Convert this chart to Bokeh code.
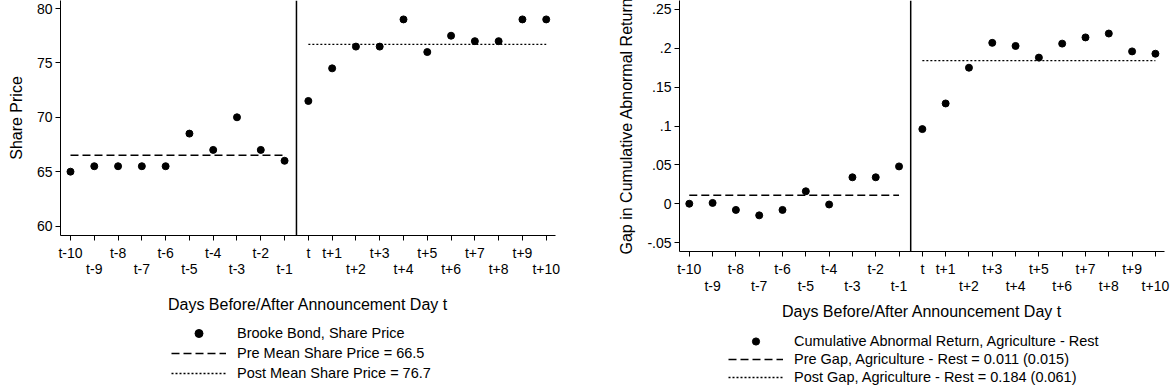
from bokeh.plotting import figure
from bokeh.models import (Span, Legend, LegendItem, FixedTicker, Range1d)
from bokeh.layouts import row, column
from bokeh.embed import file_html
from bokeh.resources import INLINE

# ---------------- data ----------------
days = list(range(-10, 11))
tick_labels = ["t-10", "t-9", "t-8", "t-7", "t-6", "t-5", "t-4", "t-3", "t-2", "t-1",
               "t", "t+1", "t+2", "t+3", "t+4", "t+5", "t+6", "t+7", "t+8", "t+9", "t+10"]
tick_row2 = [0, 1, 0, 1, 0, 1, 0, 1, 0, 1,
             0, 0, 1, 0, 1, 0, 1, 0, 1, 0, 1]

share_price = [65.0, 65.5, 65.5, 65.5, 65.5, 68.5, 67.0, 70.0, 67.0, 66.0,
               71.5, 74.5, 76.5, 76.5, 79.0, 76.0, 77.5, 77.0, 77.0, 79.0, 79.0]
pre_mean_price = 66.5
post_mean_price = 76.7

car_gap = [0.000, 0.001, -0.008, -0.015, -0.008, 0.016, -0.001, 0.034, 0.034, 0.048,
           0.096, 0.129, 0.175, 0.207, 0.203, 0.188, 0.206, 0.214, 0.219, 0.196, 0.193]
pre_gap = 0.011
post_gap = 0.184

price_ticks = [60, 65, 70, 75, 80]
gap_ticks = [-0.05, 0, 0.05, 0.1, 0.15, 0.2, 0.25]
gap_tick_labels = ["-.05", "0", ".05", ".1", ".15", ".2", ".25"]

legend_left = ["Brooke Bond, Share Price",
               "Pre Mean Share Price = 66.5",
               "Post Mean Share Price = 76.7"]
legend_right = ["Cumulative Abnormal Return, Agriculture - Rest",
                "Pre Gap, Agriculture - Rest = 0.011 (0.015)",
                "Post Gap, Agriculture - Rest = 0.184 (0.061)"]

FONT = "Liberation Sans"

pre_days = [d for d in days if d < 0]
post_days = [d for d in days if d >= 0]

MARK = dict(size=7, color="black")
PRE_LINE = dict(line_color="black", line_width=1.5, line_dash="8 4")
POST_LINE = dict(line_color="black", line_width=1.3, line_dash="2 2")


def draw_series(fig, yvals, pre, post):
    r_pts = fig.scatter(days, yvals, **MARK)
    r_pre = fig.line(pre_days, [pre] * len(pre_days), **PRE_LINE)
    r_post = fig.line(post_days, [post] * len(post_days), **POST_LINE)
    return r_pts, r_pre, r_post


def make_panel(yvals, pre, post, y_range, yticks, ylabels, ytitle,
               frame_w, frame_h, border_left, border_right, line_h, title_standoff):
    p = figure(output_backend="svg", toolbar_location=None,
               frame_width=frame_w, frame_height=frame_h,
               x_range=Range1d(-10.42, 10.39), y_range=Range1d(*y_range),
               min_border_left=border_left, min_border_right=border_right,
               min_border_top=0, min_border_bottom=0,
               background_fill_color="white", border_fill_color="white")
    p.outline_line_color = None
    p.grid.visible = False

    p.xaxis.ticker = FixedTicker(ticks=days)
    p.xaxis.major_label_overrides = {
        d: ("\n" + lab if r else lab) for d, lab, r in zip(days, tick_labels, tick_row2)}
    p.yaxis.ticker = FixedTicker(ticks=yticks)
    if ylabels is not None:
        p.yaxis.major_label_overrides = {t: l for t, l in zip(yticks, ylabels)}
    for ax in (p.xaxis, p.yaxis):
        ax.axis_line_color = "black"
        ax.axis_line_width = 1
        ax.major_tick_line_color = "black"
        ax.major_tick_out = 5
        ax.major_tick_in = 0
        ax.minor_tick_line_color = None
        ax.major_label_text_font = FONT
        ax.major_label_text_font_size = "14px"
        ax.major_label_text_color = "black"
        ax.axis_label_text_font = FONT
        ax.axis_label_text_font_size = "16px"
        ax.axis_label_text_font_style = "normal"
        ax.axis_label_text_color = "black"
    p.xaxis.major_label_standoff = 4
    p.xaxis.major_label_text_line_height = line_h
    p.xaxis.axis_label = "Days Before/After Announcement Day t"
    p.xaxis.axis_label_standoff = title_standoff
    p.yaxis.major_label_standoff = 3
    p.yaxis.axis_label = ytitle
    p.yaxis.axis_label_standoff = 9

    # announcement divider
    p.add_layout(Span(location=-0.5, dimension="height", line_color="black", line_width=1.5))

    draw_series(p, yvals, pre, post)
    return p


def make_legend(labels, yvals, pre, post, total_w, h, x0, y0, row_h):
    # legend strip below a panel; the series are repeated here off-screen only
    # so that the legend has renderers of its own to draw its samples from
    q = figure(output_backend="svg", toolbar_location=None, width=total_w, height=h,
               x_range=Range1d(1000, 1001), y_range=Range1d(1000, 1001),
               x_axis_location=None, y_axis_location=None,
               min_border=0, background_fill_color="white", border_fill_color="white")
    q.outline_line_color = None
    q.grid.visible = False
    r_pts, r_pre, r_post = draw_series(q, yvals, pre, post)
    legend = Legend(items=[LegendItem(label=labels[0], renderers=[r_pts]),
                           LegendItem(label=labels[1], renderers=[r_pre]),
                           LegendItem(label=labels[2], renderers=[r_post])],
                    location=(x0, y0), orientation="vertical",
                    border_line_color=None, background_fill_alpha=0,
                    padding=0, margin=0, spacing=0,
                    glyph_width=55, glyph_height=row_h, label_height=row_h,
                    label_standoff=11,
                    label_text_font=FONT, label_text_font_size="14.5px",
                    label_text_color="black")
    q.add_layout(legend)
    return q


left = make_panel(share_price, pre_mean_price, post_mean_price, (59.13, 80.74),
                  price_ticks, None, "Share Price",
                  frame_w=495, frame_h=235, border_left=60, border_right=57,
                  line_h=1.05, title_standoff=16)
left_leg = make_legend(legend_left, share_price, pre_mean_price, post_mean_price,
                       612, 72, 111, 5, 20)

right = make_panel(car_gap, pre_gap, post_gap, (-0.0615, 0.2615),
                   gap_ticks, gap_tick_labels, "Gap in Cumulative Abnormal Return",
                   frame_w=485, frame_h=251, border_left=67, border_right=11,
                   line_h=1.1, title_standoff=6)
right_leg = make_legend(legend_right, car_gap, pre_gap, post_gap,
                        563, 64, 49, 1, 18)

layout = row(column(left, left_leg), column(right, right_leg))
open("out.html", "w").write(file_html(layout, INLINE))
